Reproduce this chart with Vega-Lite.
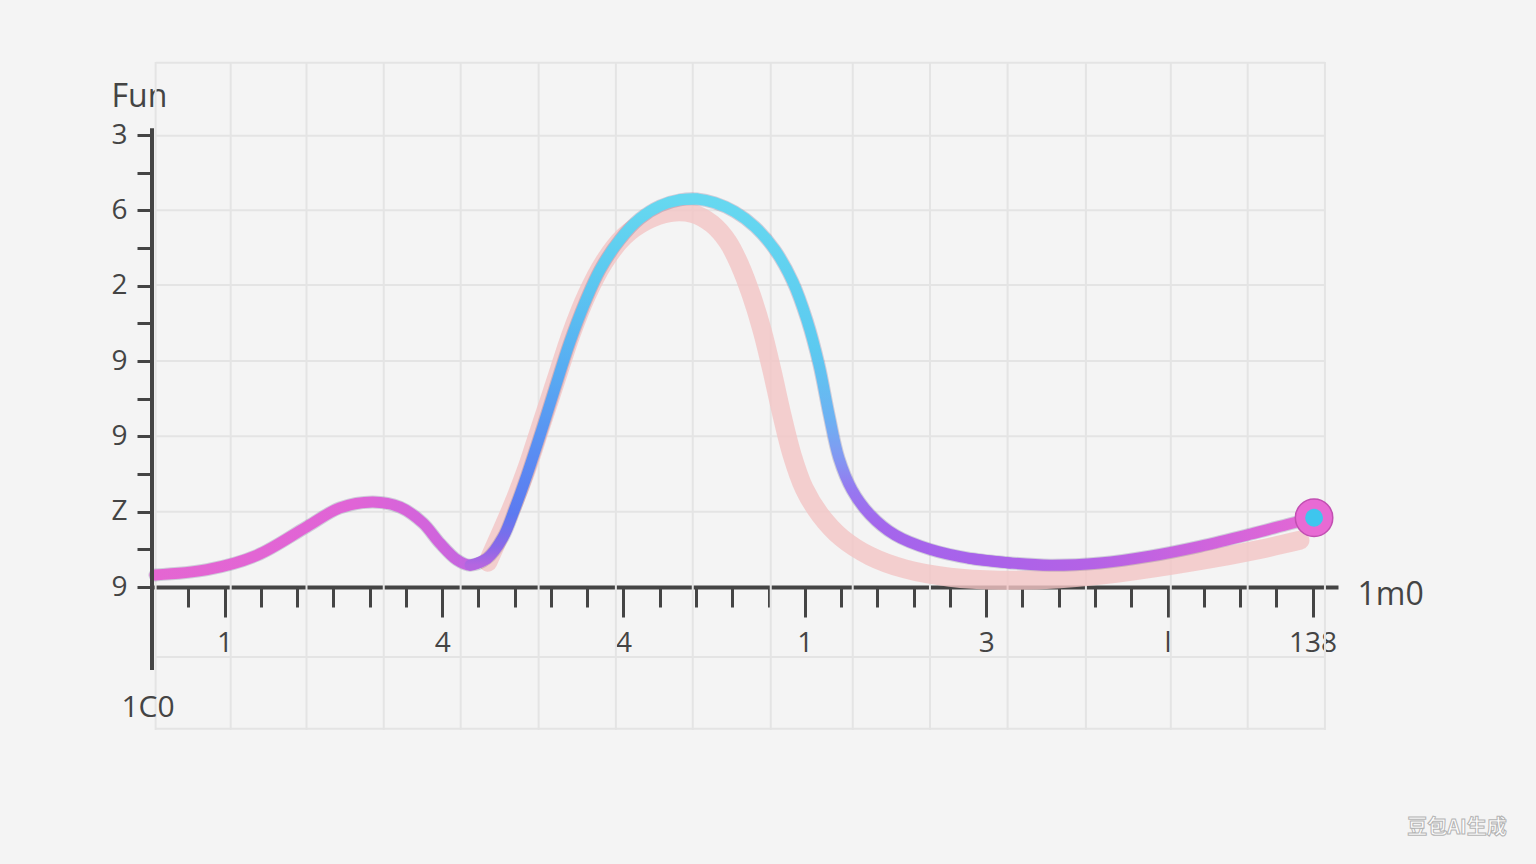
{
  "$schema": "https://vega.github.io/schema/vega-lite/v6.json",
  "width": 1186,
  "height": 668,
  "autosize": {"type": "none"},
  "padding": {"left": 152, "top": 62, "right": 198, "bottom": 134},
  "background": "#f4f4f4",
  "config": {
    "view": {"stroke": null},
    "axis": {"labelFont": "Open Sans", "titleFont": "Open Sans", "domainColor": "#444444", "tickColor": "#444444", "labelColor": "#444444", "titleColor": "#444444", "grid": false, "titleFontWeight": "normal"}
  },
  "datasets": {
    "curve": [
      {"x": 0.08, "y": 0.16}, {"x": 1.52, "y": 0.23}, {"x": 2.89, "y": 0.42}, {"x": 4.27, "y": 0.8}, {"x": 5.18, "y": 1.05},
      {"x": 6.09, "y": 1.13}, {"x": 6.84, "y": 1.06}, {"x": 7.47, "y": 0.85}, {"x": 7.94, "y": 0.58}, {"x": 8.41, "y": 0.36},
      {"x": 8.77, "y": 0.29}, {"x": 9.24, "y": 0.38}, {"x": 9.68, "y": 0.66}, {"x": 10.01, "y": 1.05}, {"x": 10.34, "y": 1.49},
      {"x": 10.73, "y": 2.06}, {"x": 11.11, "y": 2.64}, {"x": 11.52, "y": 3.25}, {"x": 11.94, "y": 3.78}, {"x": 12.35, "y": 4.21},
      {"x": 12.9, "y": 4.61}, {"x": 13.45, "y": 4.89}, {"x": 14.01, "y": 5.06}, {"x": 14.56, "y": 5.14}, {"x": 15.03, "y": 5.15},
      {"x": 15.52, "y": 5.1}, {"x": 16.07, "y": 4.98}, {"x": 16.63, "y": 4.78}, {"x": 17.18, "y": 4.47}, {"x": 17.67, "y": 4.05},
      {"x": 18.06, "y": 3.54}, {"x": 18.39, "y": 2.95}, {"x": 18.67, "y": 2.28}, {"x": 18.94, "y": 1.71}, {"x": 19.3, "y": 1.29},
      {"x": 19.8, "y": 0.96}, {"x": 20.49, "y": 0.69}, {"x": 21.45, "y": 0.5}, {"x": 22.55, "y": 0.38}, {"x": 23.66, "y": 0.32},
      {"x": 24.76, "y": 0.29}, {"x": 26.14, "y": 0.32}, {"x": 27.52, "y": 0.41}, {"x": 28.89, "y": 0.54}, {"x": 30.27, "y": 0.7},
      {"x": 31.38, "y": 0.84}, {"x": 32.04, "y": 0.92}
    ],
    "shadow": [
      {"x": 9.26, "y": 0.33}, {"x": 9.59, "y": 0.69}, {"x": 9.95, "y": 1.09}, {"x": 10.34, "y": 1.58}, {"x": 10.73, "y": 2.15},
      {"x": 11.14, "y": 2.75}, {"x": 11.55, "y": 3.35}, {"x": 11.99, "y": 3.88}, {"x": 12.46, "y": 4.31}, {"x": 13.01, "y": 4.65},
      {"x": 13.62, "y": 4.86}, {"x": 14.28, "y": 4.97}, {"x": 14.89, "y": 4.96}, {"x": 15.44, "y": 4.82}, {"x": 15.88, "y": 4.58},
      {"x": 16.21, "y": 4.27}, {"x": 16.52, "y": 3.88}, {"x": 16.82, "y": 3.41}, {"x": 17.09, "y": 2.88}, {"x": 17.37, "y": 2.28},
      {"x": 17.65, "y": 1.75}, {"x": 17.98, "y": 1.31}, {"x": 18.42, "y": 0.96}, {"x": 19.02, "y": 0.65}, {"x": 19.8, "y": 0.41},
      {"x": 20.76, "y": 0.24}, {"x": 22.0, "y": 0.13}, {"x": 23.38, "y": 0.09}, {"x": 25.03, "y": 0.11}, {"x": 26.69, "y": 0.19},
      {"x": 28.89, "y": 0.35}, {"x": 30.55, "y": 0.5}, {"x": 31.65, "y": 0.62}
    ],
    "vgrid": [
      {"gx": 0.1}, {"gx": 2.17}, {"gx": 4.26}, {"gx": 6.39}, {"gx": 8.51}, {"gx": 10.66}, {"gx": 12.79}, {"gx": 14.91},
      {"gx": 17.06}, {"gx": 19.32}, {"gx": 21.45}, {"gx": 23.59}, {"gx": 25.75}, {"gx": 28.09}, {"gx": 30.21}, {"gx": 32.34}
    ],
    "hgrid": [
      {"gy": 6.96}, {"gy": 5.99}, {"gy": 5.0}, {"gy": 4.01}, {"gy": 3.0}, {"gy": 2.0}, {"gy": 1.0}, {"gy": -0.93}, {"gy": -1.88}
    ]
  },
  "layer": [
    {
      "data": {"name": "curve"},
      "mark": {"type": "line", "opacity": 0},
      "encoding": {
        "x": {
          "field": "x", "type": "quantitative", "title": "1m0",
          "scale": {"domain": [0, 32.7], "nice": false, "zero": false},
          "axis": {
            "orient": "bottom", "offset": -143, "domainWidth": 4, "tickCount": 60,
            "values": [1,2,3,4,5,6,7,8,9,10,11,12,13,14,15,16,17,18,19,20,21,22,23,24,25,26,27,28,29,30,31,32],
            "tickWidth": 3,
            "tickSize": {"condition": {"test": "indexof([2,8,13,18,23,28,32], datum.value) >= 0", "value": 30}, "value": 20},
            "labelExpr": "datum.value == 2 ? '1' : datum.value == 8 ? '4' : datum.value == 13 ? '4' : datum.value == 18 ? '1' : datum.value == 23 ? '3' : datum.value == 28 ? 'l' : datum.value == 32 ? '138' : ''",
            "labelFontSize": 28, "labelPadding": 12, "labelFlush": false, "labelOverlap": false, "labelBound": false,
            "titleFontSize": 32, "titleX": 1205, "titleY": 7, "titleAlign": "left", "titleBaseline": "middle", "titleAnchor": null
          }
        },
        "y": {
          "field": "y", "type": "quantitative", "title": "Fun",
          "scale": {"domain": [-1.898, 6.969], "nice": false, "zero": false},
          "axis": {
            "orient": "left", "domain": false, "tickCount": 40,
            "values": [0, 0.5, 1, 1.5, 2, 2.5, 3, 3.5, 4, 4.5, 5, 5.5, 6],
            "tickWidth": 3, "tickSize": 15,
            "labelExpr": "datum.value == 0 ? '9' : datum.value == 1 ? 'Z' : datum.value == 2 ? '9' : datum.value == 3 ? '9' : datum.value == 4 ? '2' : datum.value == 5 ? '6' : datum.value == 6 ? '3' : ''",
            "labelFontSize": 28, "labelPadding": 10, "labelOverlap": false, "labelBound": false, "labelFlush": false,
            "titleFontSize": 32, "titleAngle": 0, "titleX": -41, "titleY": 44, "titleAlign": "left", "titleBaseline": "alphabetic", "titleAnchor": null
          }
        }
      }
    },
    {
      "data": {"name": "vgrid"},
      "mark": {"type": "rule", "stroke": "#e4e4e4", "strokeWidth": 2},
      "encoding": {"x": {"field": "gx", "type": "quantitative", "title": "1m0"}}
    },
    {
      "data": {"name": "hgrid"},
      "mark": {"type": "rule", "stroke": "#e4e4e4", "strokeWidth": 2},
      "encoding": {
        "y": {"field": "gy", "type": "quantitative", "title": "Fun"},
        "x": {"datum": 0.1},
        "x2": {"datum": 32.34}
      }
    },
    {
      "data": {"name": "shadow"},
      "mark": {"type": "line", "interpolate": "catmull-rom", "stroke": "#f2c4c4", "strokeWidth": 19, "strokeCap": "round", "opacity": 0.8},
      "encoding": {
        "x": {"field": "x", "type": "quantitative", "title": "1m0"},
        "y": {"field": "y", "type": "quantitative", "title": "Fun"}
      }
    },
    {
      "data": {"name": "curve"},
      "mark": {"type": "line", "interpolate": "catmull-rom", "stroke": "#4a3f7a", "strokeWidth": 13, "strokeCap": "round", "opacity": 0.22},
      "encoding": {
        "x": {"field": "x", "type": "quantitative", "title": "1m0"},
        "y": {"field": "y", "type": "quantitative", "title": "Fun"}
      }
    },
    {
      "data": {"name": "curve"},
      "transform": [{"filter": "datum.x <= 9.3"}],
      "mark": {"type": "line", "interpolate": "catmull-rom", "strokeWidth": 11, "strokeCap": "round",
        "stroke": {"gradient": "linear", "x1": 0, "y1": 0, "x2": 1, "y2": 0,
          "stops": [{"offset": 0, "color": "#e466d2"}, {"offset": 0.6, "color": "#e064d6"}, {"offset": 0.85, "color": "#d064dc"}, {"offset": 1, "color": "#b868e2"}]}},
      "encoding": {
        "x": {"field": "x", "type": "quantitative", "title": "1m0"},
        "y": {"field": "y", "type": "quantitative", "title": "Fun"}
      }
    },
    {
      "data": {"name": "curve"},
      "transform": [{"filter": "datum.x >= 8.7 && datum.x <= 15.1"}],
      "mark": {"type": "line", "interpolate": "catmull-rom", "strokeWidth": 11, "strokeCap": "round",
        "stroke": {"gradient": "linear", "x1": 0, "y1": 0, "x2": 0, "y2": 1,
          "stops": [{"offset": 0, "color": "#66d8f0"}, {"offset": 0.2, "color": "#5ccaf0"}, {"offset": 0.45, "color": "#58aef2"}, {"offset": 0.7, "color": "#5a8cf2"}, {"offset": 0.86, "color": "#5c7af0"}, {"offset": 0.95, "color": "#8a68e8"}, {"offset": 1, "color": "#b466e0"}]}},
      "encoding": {
        "x": {"field": "x", "type": "quantitative", "title": "1m0"},
        "y": {"field": "y", "type": "quantitative", "title": "Fun"}
      }
    },
    {
      "data": {"name": "curve"},
      "transform": [{"filter": "datum.x >= 14.5 && datum.x <= 23.7"}],
      "mark": {"type": "line", "interpolate": "catmull-rom", "strokeWidth": 11, "strokeCap": "round",
        "stroke": {"gradient": "linear", "x1": 0, "y1": 0, "x2": 0, "y2": 1,
          "stops": [{"offset": 0, "color": "#66d8f0"}, {"offset": 0.41, "color": "#5ccaf0"}, {"offset": 0.6, "color": "#6cb2f2"}, {"offset": 0.71, "color": "#8298f2"}, {"offset": 0.8, "color": "#9678f0"}, {"offset": 0.9, "color": "#a466ec"}, {"offset": 1, "color": "#a862ea"}]}},
      "encoding": {
        "x": {"field": "x", "type": "quantitative", "title": "1m0"},
        "y": {"field": "y", "type": "quantitative", "title": "Fun"}
      }
    },
    {
      "data": {"name": "curve"},
      "transform": [{"filter": "datum.x >= 22.5"}],
      "mark": {"type": "line", "interpolate": "catmull-rom", "strokeWidth": 11, "strokeCap": "round",
        "stroke": {"gradient": "linear", "x1": 0, "y1": 0, "x2": 1, "y2": 0,
          "stops": [{"offset": 0, "color": "#a862ea"}, {"offset": 0.35, "color": "#b462e6"}, {"offset": 0.7, "color": "#d064dc"}, {"offset": 1, "color": "#e468d4"}]}},
      "encoding": {
        "x": {"field": "x", "type": "quantitative", "title": "1m0"},
        "y": {"field": "y", "type": "quantitative", "title": "Fun"}
      }
    },
    {
      "data": {"values": [{}]},
      "mark": {"type": "rule", "stroke": "#444444", "strokeWidth": 4},
      "encoding": {"x": {"datum": 0}, "y": {"datum": -1.1}, "y2": {"datum": 6.09}}
    },
    {
      "data": {"name": "curve"},
      "transform": [{"filter": "datum.x > 32"}],
      "mark": {"type": "point", "shape": "circle", "filled": true, "size": 1400, "fill": "#e86ad4", "stroke": "#c24fb2", "strokeWidth": 1.5, "opacity": 1},
      "encoding": {
        "x": {"field": "x", "type": "quantitative", "title": "1m0"},
        "y": {"field": "y", "type": "quantitative", "title": "Fun"}
      }
    },
    {
      "data": {"name": "curve"},
      "transform": [{"filter": "datum.x > 32"}],
      "mark": {"type": "point", "shape": "circle", "filled": true, "size": 320, "fill": "#3ec6ee", "opacity": 1},
      "encoding": {
        "x": {"field": "x", "type": "quantitative", "title": "1m0"},
        "y": {"field": "y", "type": "quantitative", "title": "Fun"}
      }
    },
    {
      "data": {"values": [{}]},
      "mark": {"type": "text", "text": "1C0", "font": "Open Sans", "fontSize": 30, "fill": "#444444", "align": "center", "baseline": "middle"},
      "encoding": {"x": {"datum": -0.11}, "y": {"datum": -1.606}}
    },
    {
      "data": {"values": [{}]},
      "mark": {"type": "text", "text": "豆包AI生成", "font": "Noto Sans CJK SC", "fontWeight": "bold", "fontSize": 20, "fill": "#ffffff", "stroke": "#b4b4b4", "strokeWidth": 1, "align": "center", "baseline": "middle"},
      "encoding": {"x": {"datum": 35.98}, "y": {"datum": -3.2}}
    }
  ]
}
